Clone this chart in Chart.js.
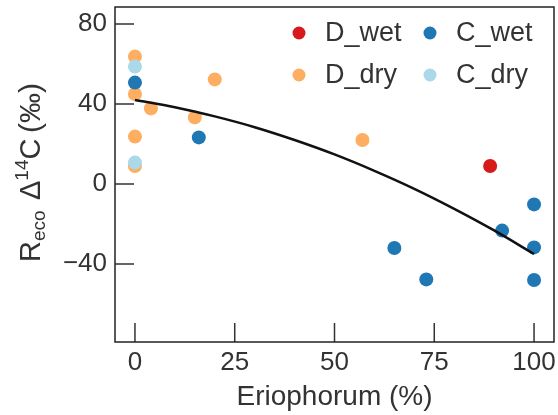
<!DOCTYPE html>
<html>
<head>
<meta charset="utf-8">
<script src="https://cdn.jsdelivr.net/npm/chart.js@4.4.1/dist/chart.umd.min.js"></script>
<style>
  html, body { margin: 0; padding: 0; background: #fff; }
  #wrap { width: 558px; height: 415px; }
</style>
</head>
<body>
<div id="wrap"><canvas id="chart" width="558" height="415"></canvas></div>
<script>
// values
const dWetX = [89];
const dWetY = [9];
const cWetX = [0, 16, 65, 73, 92, 100, 100, 100];
const cWetY = [50.7, 23.3, -32, -47.7, -23.3, -10.2, -31.7, -48];
const dDryX = [0, 0, 0, 0, 4, 15, 20, 57];
const dDryY = [63.7, 45, 23.7, 9, 37.8, 33.3, 52.3, 22];
const cDryX = [0, 0];
const cDryY = [58.7, 10.7];
const fitX = [0, 10, 20, 30, 40, 50, 60, 70, 80, 90, 100];
const fitY = [42, 38.4, 33.8, 28.4, 22, 14.8, 6.6, -2.4, -12.4, -23.2, -35];
const xTicks = [0, 25, 50, 75, 100];
const yTicks = [-40, 0, 40, 80];

const seriesNames = ['D_wet', 'C_wet', 'D_dry', 'C_dry'];
const seriesColors = ['#d7191c', '#1f78b4', '#fdae61', '#abd9e9'];

const toPts = (xs, ys) => xs.map((x, i) => ({ x: x, y: ys[i] }));

const FONT = '"Liberation Sans", Arial, sans-serif';
const TXT = '#333';

const noPad = (s) => {
    s.paddingTop = 0;
    s.paddingBottom = 0;
    s.paddingLeft = 0;
    s.paddingRight = 0;
};

const frameAndTicks = {
    id: 'frameAndTicks',
    afterDatasetsDraw(chart) {
        const { ctx, chartArea: a, scales } = chart;
        ctx.save();
        ctx.strokeStyle = '#333';
        ctx.lineWidth = 1.5;
        ctx.beginPath();
        xTicks.forEach((v) => {
            const px = scales.x.getPixelForValue(v);
            ctx.moveTo(px, a.bottom);
            ctx.lineTo(px, a.bottom - 19);
        });
        yTicks.forEach((v) => {
            const py = scales.y.getPixelForValue(v);
            ctx.moveTo(a.left, py);
            ctx.lineTo(a.left + 19, py);
        });
        ctx.stroke();
        ctx.strokeStyle = '#222';
        ctx.strokeRect(a.left, a.top, a.right - a.left, a.bottom - a.top);

        // legend, two columns
        const cols = [299, 430];
        const rows = [33, 75];
        ctx.font = '27px ' + FONT;
        ctx.textBaseline = 'middle';
        ctx.textAlign = 'left';
        seriesNames.forEach((name, i) => {
            const cx = cols[i % 2];
            const cy = rows[Math.floor(i / 2)];
            ctx.fillStyle = seriesColors[i];
            ctx.beginPath();
            ctx.arc(cx, cy, 6.5, 0, Math.PI * 2);
            ctx.fill();
            ctx.fillStyle = TXT;
            ctx.fillText(name, cx + 26, cy + 1);
        });

        // y axis title with sub and superscript, running bottom to top
        ctx.translate(40, 262);
        ctx.rotate(-Math.PI / 2);
        ctx.textBaseline = 'alphabetic';
        ctx.fillStyle = TXT;
        const big = '29px ' + FONT;
        const small = '19px ' + FONT;
        let x = 0;
        const put = (s, f, dy) => {
            ctx.font = f;
            ctx.fillText(s, x, dy);
            x += ctx.measureText(s).width;
        };
        put('R', big, 0);
        put('eco', small, 5);
        x = 62;
        put('\u0394', big, 0);
        put('14', small, -12);
        put('C', big, 0);
        ctx.font = big;
        const w = ctx.measureText('(\u2030)').width;
        ctx.translate(129, 0);
        ctx.scale(50 / w, 1);
        ctx.fillText('(\u2030)', 0, 0);
        ctx.restore();
    }
};

new Chart(document.getElementById('chart'), {
    type: 'scatter',
    data: {
        datasets: [
            { label: 'fit', type: 'line', data: toPts(fitX, fitY), borderColor: '#111', borderWidth: 2.5,
              pointRadius: 0, fill: false, cubicInterpolationMode: 'monotone', order: 0 },
            { label: seriesNames[0], data: toPts(dWetX, dWetY), backgroundColor: seriesColors[0], pointRadius: 7, borderWidth: 0, order: 1 },
            { label: seriesNames[3], data: toPts(cDryX, cDryY), backgroundColor: seriesColors[3], pointRadius: 7, borderWidth: 0, order: 2 },
            { label: seriesNames[1], data: toPts(cWetX, cWetY), backgroundColor: seriesColors[1], pointRadius: 7, borderWidth: 0, order: 3 },
            { label: seriesNames[2], data: toPts(dDryX, dDryY), backgroundColor: seriesColors[2], pointRadius: 7, borderWidth: 0, order: 4 },
        ],
    },
    options: {
        responsive: false,
        animation: false,
        layout: { autoPadding: false, padding: { top: 7, right: 4, left: 0, bottom: 0 } },
        plugins: { legend: { display: false }, tooltip: { enabled: false } },
        scales: {
            x: {
                type: 'linear',
                min: -5,
                max: 105,
                afterBuildTicks: (s) => { s.ticks = xTicks.map((v) => ({ value: v })); },
                afterFit: (s) => { s.height = 73; noPad(s); },
                grid: { display: false, drawTicks: false },
                border: { display: false },
                ticks: { color: TXT, font: { family: FONT, size: 26 }, padding: 5, maxRotation: 0 },
                title: { display: true, text: 'Eriophorum (%)', color: TXT, font: { family: FONT, size: 28 },
                         padding: { top: 0, bottom: 1 } },
            },
            y: {
                type: 'linear',
                min: -79,
                max: 88.5,
                afterBuildTicks: (s) => { s.ticks = yTicks.map((v) => ({ value: v })); },
                afterFit: (s) => { s.width = 115; noPad(s); },
                grid: { display: false, drawTicks: false },
                border: { display: false },
                ticks: { color: TXT, font: { family: FONT, size: 26 }, padding: 8,
                         callback: (v) => String(v).replace('-', '\u2212') },
            },
        },
    },
    plugins: [frameAndTicks],
});
</script>
</body>
</html>
